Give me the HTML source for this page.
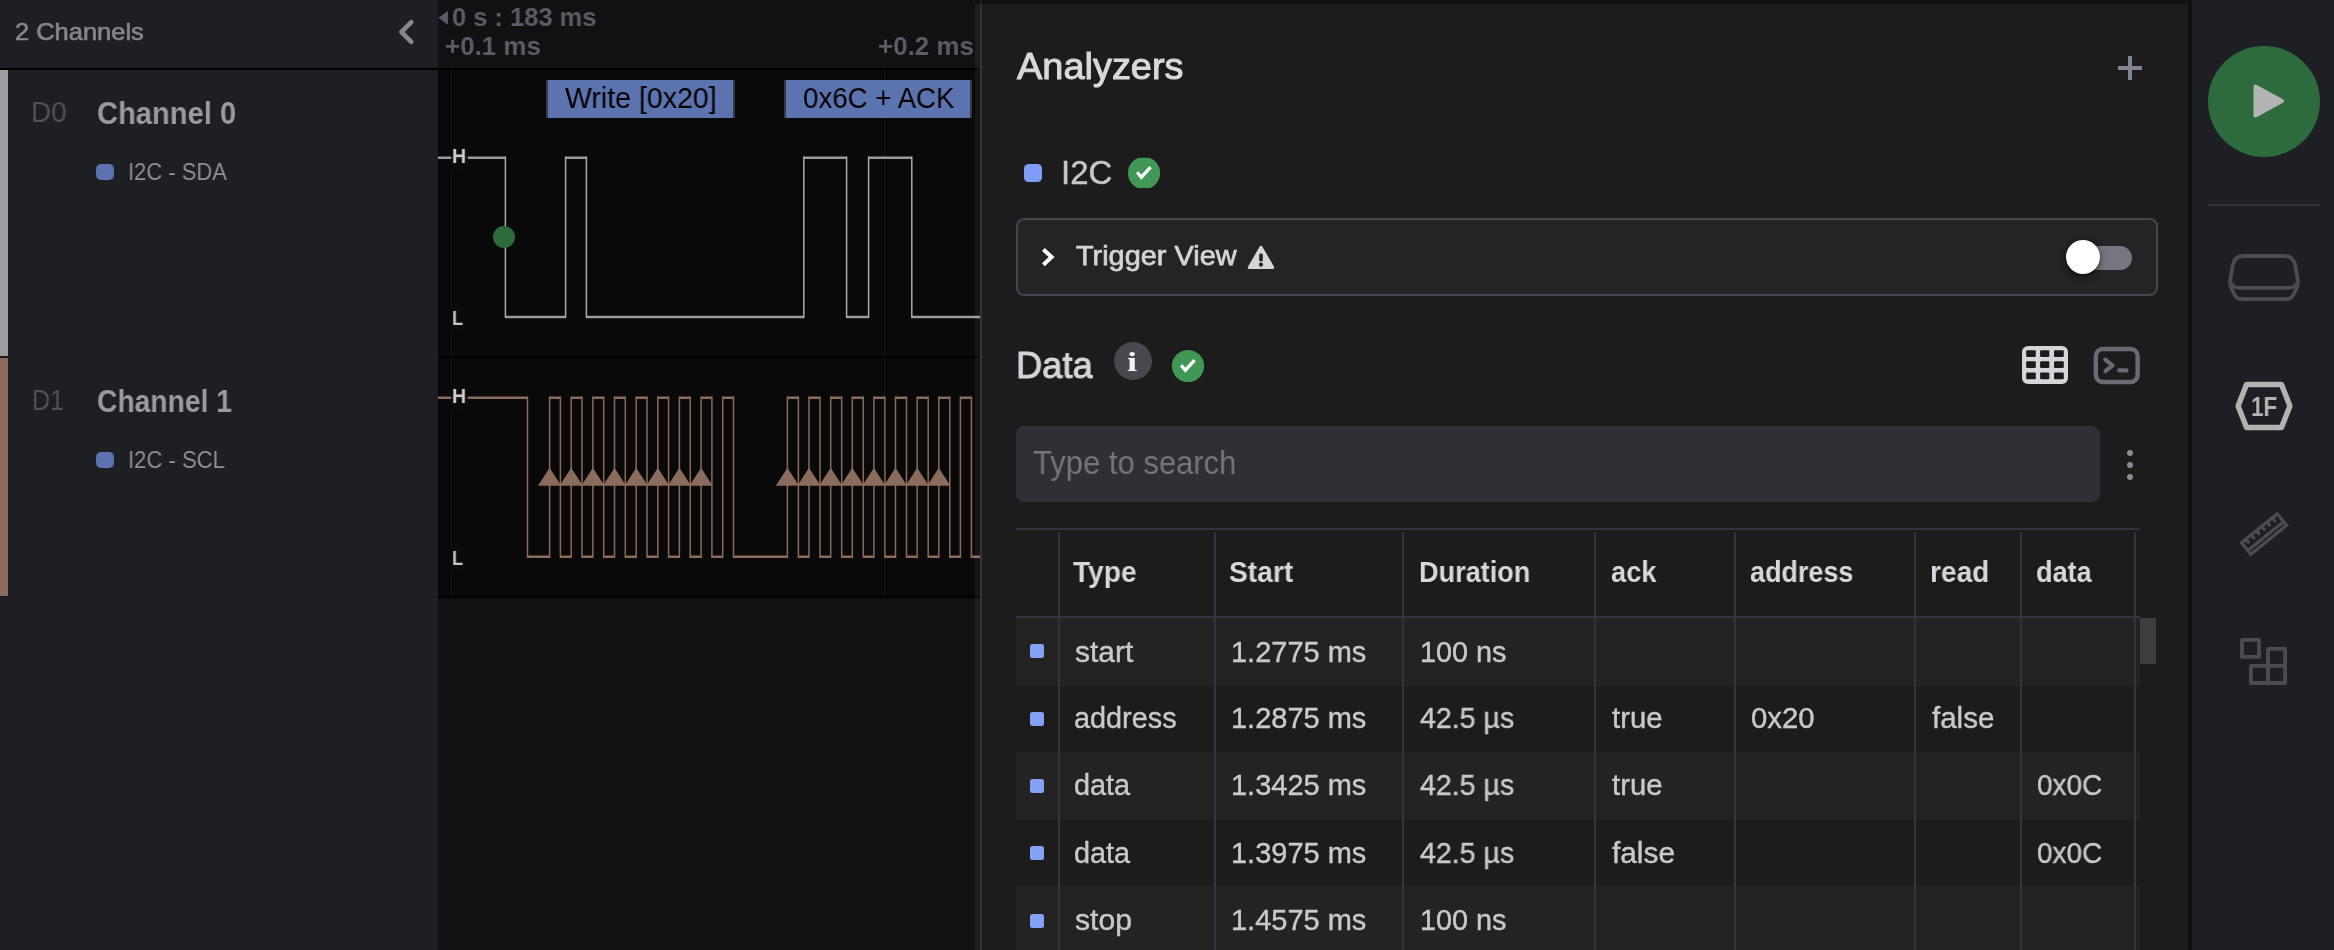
<!DOCTYPE html>
<html><head><meta charset="utf-8"><title>Logic 2</title>
<style>
html,body{margin:0;padding:0;background:#111111;}
body{width:2334px;height:950px;position:relative;overflow:hidden;font-family:"Liberation Sans",sans-serif;}
.a{position:absolute;}
.t{position:absolute;white-space:pre;transform-origin:0 0;display:block;will-change:transform;}
svg{position:absolute;overflow:visible;}
</style></head><body>
<div class="a" style="left:0px;top:0px;width:438px;height:950px;background:#1e1f24;"></div>
<div class="a" style="left:438px;top:0px;width:542px;height:68px;background:#111111;"></div>
<div class="a" style="left:438px;top:70px;width:542px;height:528px;background:#090909;"></div>
<div class="a" style="left:438px;top:598px;width:542px;height:352px;background:#111111;"></div>
<div class="a" style="left:0px;top:68px;width:980px;height:2px;background:#000000;"></div>
<div class="a" style="left:0px;top:356px;width:438px;height:2px;background:#1a1b1f;"></div>
<div class="a" style="left:438px;top:356px;width:542px;height:2px;background:#000000;"></div>
<div class="a" style="left:0px;top:596px;width:438px;height:2px;background:#1a1b1f;"></div>
<div class="a" style="left:438px;top:596px;width:542px;height:2px;background:#000000;"></div>
<div class="a" style="left:0px;top:70px;width:8px;height:286px;background:#9e9e9e;"></div>
<div class="a" style="left:0px;top:358px;width:8px;height:238px;background:#8b6b5b;"></div>
<div class="a" style="left:451px;top:60px;width:1px;height:538px;background:rgba(255,255,255,0.045);"></div>
<div class="a" style="left:884px;top:60px;width:1px;height:538px;background:rgba(255,255,255,0.045);"></div>
<span class="t" style="left:14.87px;top:17.89px;font-size:23.09px;line-height:28px;font-weight:400;color:#85868d;font-family:'Liberation Sans', sans-serif;transform:scaleX(1.1031);-webkit-text-stroke:0.62px #85868d;">2 Channels</span>
<svg style="left:396px;top:18px" width="22" height="28" viewBox="0 0 22 28"><path d="M15.3 4.2 L5.400 14 L15.3 23.8" fill="none" stroke="#87888e" stroke-width="4.6" stroke-linecap="round" stroke-linejoin="round"/></svg>
<span class="t" style="left:31.47px;top:94.80px;font-size:29px;line-height:35px;font-weight:400;color:#505157;font-family:'Liberation Sans', sans-serif;transform:scaleX(0.9602);">D0</span>
<span class="t" style="left:96.74px;top:94.90px;font-size:31px;line-height:37px;font-weight:700;color:#9a9ba1;font-family:'Liberation Sans', sans-serif;transform:scaleX(0.9389);">Channel 0</span>
<div class="a" style="left:96px;top:164px;width:18px;height:16px;background:#5b73b0;border-radius:5px;"></div>
<span class="t" style="left:128.02px;top:157.00px;font-size:24.5px;line-height:29px;font-weight:400;color:#8f9096;font-family:'Liberation Sans', sans-serif;transform:scaleX(0.8959);">I2C - SDA</span>
<span class="t" style="left:31.70px;top:382.80px;font-size:29px;line-height:35px;font-weight:400;color:#505157;font-family:'Liberation Sans', sans-serif;transform:scaleX(0.8606);">D1</span>
<span class="t" style="left:96.77px;top:382.90px;font-size:31px;line-height:37px;font-weight:700;color:#9a9ba1;font-family:'Liberation Sans', sans-serif;transform:scaleX(0.9106);">Channel 1</span>
<div class="a" style="left:96px;top:452px;width:18px;height:16px;background:#5b73b0;border-radius:5px;"></div>
<span class="t" style="left:128.01px;top:445.00px;font-size:24.5px;line-height:29px;font-weight:400;color:#8f9096;font-family:'Liberation Sans', sans-serif;transform:scaleX(0.9004);">I2C - SCL</span>
<svg style="left:438px;top:10px" width="12" height="16" viewBox="0 0 12 16"><path d="M9.9 1 L0.4 7.7 L9.9 14.700 Z" fill="#5b5d66"/></svg>
<span class="t" style="left:452.38px;top:2.10px;font-size:26px;line-height:31px;font-weight:700;color:#5b5d66;font-family:'Liberation Sans', sans-serif;transform:scaleX(0.9798);">0 s : 183 ms</span>
<span class="t" style="left:444.76px;top:30.50px;font-size:26px;line-height:31px;font-weight:700;color:#5b5d66;font-family:'Liberation Sans', sans-serif;transform:scaleX(0.9969);">+0.1 ms</span>
<span class="t" style="left:877.86px;top:30.50px;font-size:26px;line-height:31px;font-weight:700;color:#5b5d66;font-family:'Liberation Sans', sans-serif;transform:scaleX(0.9969);">+0.2 ms</span>
<div class="a" style="left:545.5px;top:80px;width:189px;height:38px;background:#5b74b0;border-left:2.5px solid #38393f;border-right:2.5px solid #38393f;box-sizing:border-box;"></div>
<div class="a" style="left:783.7px;top:80px;width:188.8px;height:38px;background:#5b74b0;border-left:2.5px solid #38393f;border-right:2.5px solid #38393f;box-sizing:border-box;"></div>
<span class="t" style="left:564.56px;top:80.70px;font-size:29px;line-height:35px;font-weight:400;color:#000;font-family:'Liberation Sans', sans-serif;transform:scaleX(0.9829);">Write [0x20]</span>
<span class="t" style="left:802.59px;top:80.70px;font-size:29px;line-height:35px;font-weight:400;color:#000;font-family:'Liberation Sans', sans-serif;transform:scaleX(0.9534);">0x6C + ACK</span>
<svg style="left:0;top:0" width="980" height="950"><path d="M438 157.8 H505.4 M505.4 316.9 H565.6 M565.6 157.8 H586.4 M586.4 316.9 H803.8 M803.8 157.8 H846.6 M846.6 316.9 H868.6 M868.6 157.8 H911.8 M911.8 316.9 H980 " fill="none" stroke="#9a9a9a" stroke-width="2.5"/><path d="M505.4 156.60000000000002 V318.09999999999997 M565.6 156.60000000000002 V318.09999999999997 M586.4 156.60000000000002 V318.09999999999997 M803.8 156.60000000000002 V318.09999999999997 M846.6 156.60000000000002 V318.09999999999997 M868.6 156.60000000000002 V318.09999999999997 M911.8 156.60000000000002 V318.09999999999997 " fill="none" stroke="#ababab" stroke-width="1.5"/></svg>
<svg style="left:0;top:0" width="980" height="950"><path d="M438 397.7 H527.5 M527.5 556.8 H549.6 M549.6 397.7 H560.4 M560.4 556.8 H571.2 M571.2 397.7 H582.0 M582.0 556.8 H592.9 M592.9 397.7 H603.7 M603.7 556.8 H614.5 M614.5 397.7 H625.3 M625.3 556.8 H636.2 M636.2 397.7 H647.0 M647.0 556.8 H657.8 M657.8 397.7 H668.6 M668.6 556.8 H679.4 M679.4 397.7 H690.2 M690.2 556.8 H701.1 M701.1 397.7 H711.9 M711.9 556.8 H722.7 M722.7 397.7 H733.5 M733.5 556.8 H787.4 M787.4 397.7 H798.4 M798.4 556.8 H809.0 M809.0 397.7 H820.0 M820.0 556.8 H830.7 M830.7 397.7 H841.7 M841.7 556.8 H852.3 M852.3 397.7 H863.3 M863.3 556.8 H873.9 M873.9 397.7 H884.9 M884.9 556.8 H895.5 M895.5 397.7 H906.5 M906.5 556.8 H917.2 M917.2 397.7 H928.2 M928.2 556.8 H938.8 M938.8 397.7 H949.8 M949.8 556.8 H960.4 M960.4 397.7 H971.4 M971.4 556.8 H980 " fill="none" stroke="#8b6b5b" stroke-width="2.5"/><path d="M527.5 396.5 V558.0 M549.6 396.5 V558.0 M560.4 396.5 V558.0 M571.2 396.5 V558.0 M582.0 396.5 V558.0 M592.9 396.5 V558.0 M603.7 396.5 V558.0 M614.5 396.5 V558.0 M625.3 396.5 V558.0 M636.2 396.5 V558.0 M647.0 396.5 V558.0 M657.8 396.5 V558.0 M668.6 396.5 V558.0 M679.4 396.5 V558.0 M690.2 396.5 V558.0 M701.1 396.5 V558.0 M711.9 396.5 V558.0 M722.7 396.5 V558.0 M733.5 396.5 V558.0 M787.4 396.5 V558.0 M798.4 396.5 V558.0 M809.0 396.5 V558.0 M820.0 396.5 V558.0 M830.7 396.5 V558.0 M841.7 396.5 V558.0 M852.3 396.5 V558.0 M863.3 396.5 V558.0 M873.9 396.5 V558.0 M884.9 396.5 V558.0 M895.5 396.5 V558.0 M906.5 396.5 V558.0 M917.2 396.5 V558.0 M928.2 396.5 V558.0 M938.8 396.5 V558.0 M949.8 396.5 V558.0 M960.4 396.5 V558.0 M971.4 396.5 V558.0 " fill="none" stroke="#8b6b5b" stroke-width="1.5"/><path d="M549.6 467.7 L561.2 485.8 L538.0 485.8 Z M571.2 467.7 L582.8 485.8 L559.6 485.8 Z M592.9 467.7 L604.5 485.8 L581.3 485.8 Z M614.5 467.7 L626.1 485.8 L602.9 485.8 Z M636.2 467.7 L647.8 485.8 L624.6 485.8 Z M657.8 467.7 L669.4 485.8 L646.2 485.8 Z M679.4 467.7 L691.0 485.8 L667.8 485.8 Z M701.1 467.7 L712.7 485.8 L689.5 485.8 Z M787.4 467.7 L799.0 485.8 L775.8 485.8 Z M809.0 467.7 L820.6 485.8 L797.4 485.8 Z M830.7 467.7 L842.3 485.8 L819.1 485.8 Z M852.3 467.7 L863.9 485.8 L840.7 485.8 Z M873.9 467.7 L885.5 485.8 L862.3 485.8 Z M895.5 467.7 L907.1 485.8 L883.9 485.8 Z M917.2 467.7 L928.8 485.8 L905.6 485.8 Z M938.8 467.7 L950.4 485.8 L927.2 485.8 Z " fill="#8b6b5b"/></svg>
<div class="a" style="left:493px;top:226px;width:22px;height:22px;background:#2d6a3c;border-radius:50%;"></div>
<div class="a" style="left:450.7px;top:143.2px;width:17.1px;height:27px;background:rgba(12,12,14,0.85);border-radius:5px;"></div>
<div class="a" style="left:450.7px;top:305px;width:13.1px;height:24.7px;background:rgba(12,12,14,0.85);border-radius:5px;"></div>
<span class="t" style="left:451.53px;top:144.10px;font-size:20px;line-height:24px;font-weight:700;color:#cdcdcd;font-family:'Liberation Sans', sans-serif;transform:scaleX(0.9746);">H</span>
<span class="t" style="left:451.63px;top:306.10px;font-size:20px;line-height:24px;font-weight:700;color:#c4c4c4;font-family:'Liberation Sans', sans-serif;transform:scaleX(0.9029);">L</span>
<div class="a" style="left:450.7px;top:383.2px;width:17.1px;height:27px;background:rgba(12,12,14,0.85);border-radius:5px;"></div>
<div class="a" style="left:450.7px;top:545px;width:13.1px;height:24.7px;background:rgba(12,12,14,0.85);border-radius:5px;"></div>
<span class="t" style="left:451.53px;top:384.10px;font-size:20px;line-height:24px;font-weight:700;color:#cdcdcd;font-family:'Liberation Sans', sans-serif;transform:scaleX(0.9746);">H</span>
<span class="t" style="left:451.63px;top:546.10px;font-size:20px;line-height:24px;font-weight:700;color:#c4c4c4;font-family:'Liberation Sans', sans-serif;transform:scaleX(0.9029);">L</span>
<div class="a" style="left:975px;top:4px;width:5px;height:946px;background:rgba(255,255,255,0.055);"></div>
<div class="a" style="left:975px;top:0px;width:5px;height:4px;background:rgba(255,255,255,0.0);"></div>
<div class="a" style="left:980px;top:0px;width:2px;height:4px;background:#1a1b20;"></div>
<div class="a" style="left:980px;top:4px;width:2px;height:946px;background:#33343b;"></div>
<div class="a" style="left:982px;top:4px;width:1206px;height:946px;background:#1c1c1c;"></div>
<div class="a" style="left:2188px;top:0px;width:4px;height:950px;background:#101010;"></div>
<div class="a" style="left:2192px;top:0px;width:142px;height:950px;background:#1e1f24;"></div>
<span class="t" style="left:1016.81px;top:44.49px;font-size:37.53px;line-height:45px;font-weight:400;color:#d9d9dc;font-family:'Liberation Sans', sans-serif;transform:scaleX(1.0112);-webkit-text-stroke:1.01px #d9d9dc;">Analyzers</span>
<div class="a" style="left:2118px;top:66px;width:24px;height:4px;background:#82848f;"></div>
<div class="a" style="left:2128px;top:56px;width:4px;height:24px;background:#82848f;"></div>
<div class="a" style="left:1024px;top:164px;width:18px;height:18px;background:#7f9df5;border-radius:4.5px;"></div>
<span class="t" style="left:1060.87px;top:152.87px;font-size:32.83px;line-height:39px;font-weight:400;color:#c6c6ca;font-family:'Liberation Sans', sans-serif;transform:scaleX(1.0020);-webkit-text-stroke:0.46px #c6c6ca;">I2C</span>
<svg style="left:1128.1px;top:156.9px;clip-path:inset(0.9px 0 0.8px 0);" width="32" height="32" viewBox="0 0 32 32"><circle cx="16" cy="16" r="16.1" fill="#419854"/><path d="M9.2 15.3 L13.4 20.2 L22.6 10.1" fill="none" stroke="#fff" stroke-width="3.3" stroke-linejoin="miter"/></svg>
<div class="a" style="left:1016.4px;top:218px;width:1141.4px;height:77.8px;background:#242427;border:2px solid #46474e;border-radius:8px;box-sizing:border-box;"></div>
<svg style="left:1040px;top:247px" width="16" height="20" viewBox="0 0 16 20"><path d="M3.4 2.4 L11.600 10.1 L3.4 17.8" fill="none" stroke="#f8f8f8" stroke-width="4.1" stroke-linecap="butt" stroke-linejoin="miter"/></svg>
<span class="t" style="left:1076.31px;top:239.22px;font-size:27.9px;line-height:33px;font-weight:400;color:#d4d4d8;font-family:'Liberation Sans', sans-serif;transform:scaleX(1.0359);-webkit-text-stroke:0.75px #d4d4d8;">Trigger View</span>
<svg style="left:1247px;top:245px" width="28" height="25" viewBox="0 0 28 25"><path d="M14 2.3 L25.700 22.4 L2.3 22.4 Z" fill="#d6d6da" stroke="#d6d6da" stroke-width="3" stroke-linejoin="round"/><rect x="12.200" y="8.6" width="3.6" height="7.8" rx="1.4" fill="#242427"/><circle cx="14" cy="19.7" r="2.1" fill="#242427"/></svg>
<div class="a" style="left:2070px;top:246px;width:62px;height:24px;background:#767680;border-radius:12px;"></div>
<div class="a" style="left:2066px;top:240px;width:34px;height:34px;background:#ffffff;border-radius:50%;box-shadow:0 3px 9px rgba(0,0,0,.45),0 1px 3px rgba(0,0,0,.4);"></div>
<span class="t" style="left:1016.29px;top:342.69px;font-size:37.53px;line-height:45px;font-weight:400;color:#d6d6da;font-family:'Liberation Sans', sans-serif;transform:scaleX(0.9676);-webkit-text-stroke:1.01px #d6d6da;">Data</span>
<div class="a" style="left:1114px;top:342px;width:38px;height:38px;background:#48494f;border-radius:50%;"></div>
<span class="t" style="left:1127.47px;top:345.00px;font-size:28px;line-height:34px;font-weight:700;color:#f4f4f4;font-family:'Liberation Serif', serif;transform:scaleX(1.2974);">i</span>
<svg style="left:1172px;top:350px;" width="32" height="32" viewBox="0 0 32 32"><circle cx="16" cy="16" r="16.1" fill="#419854"/><path d="M9.2 15.3 L13.4 20.2 L22.6 10.1" fill="none" stroke="#fff" stroke-width="3.3" stroke-linejoin="miter"/></svg>
<svg style="left:2022px;top:346px" width="46" height="38" viewBox="0 0 46 38"><rect x="0" y="0" width="46" height="38" rx="6" fill="#d6d6da"/><rect x="4.2" y="4.3" width="9.6" height="6.6" rx="1" fill="#1c1c1c"/><rect x="4.2" y="15.3" width="9.6" height="6.6" rx="1" fill="#1c1c1c"/><rect x="4.2" y="26.6" width="9.6" height="6.6" rx="1" fill="#1c1c1c"/><rect x="18.1" y="4.3" width="9.2" height="6.6" rx="1" fill="#1c1c1c"/><rect x="18.1" y="15.3" width="9.2" height="6.6" rx="1" fill="#1c1c1c"/><rect x="18.1" y="26.6" width="9.2" height="6.6" rx="1" fill="#1c1c1c"/><rect x="32" y="4.3" width="9.8" height="6.6" rx="1" fill="#1c1c1c"/><rect x="32" y="15.3" width="9.8" height="6.6" rx="1" fill="#1c1c1c"/><rect x="32" y="26.6" width="9.8" height="6.6" rx="1" fill="#1c1c1c"/></svg>
<svg style="left:2093px;top:347px" width="47" height="37" viewBox="0 0 47 37"><rect x="2.840" y="2" width="41.8" height="33" rx="7" fill="none" stroke="#696a73" stroke-width="4.4"/><path d="M12.300 12.6 L19.500 18.4 L12.5 24.2" fill="none" stroke="#696a73" stroke-width="4.2" stroke-linecap="round" stroke-linejoin="round"/><path d="M26.400 23.4 L33.400 23.4" stroke="#696a73" stroke-width="4.4" stroke-linecap="round"/></svg>
<div class="a" style="left:1016px;top:426px;width:1084px;height:76px;background:#2f3036;border-radius:8px;"></div>
<span class="t" style="left:1032.78px;top:443.10px;font-size:33px;line-height:40px;font-weight:400;color:#75757a;font-family:'Liberation Sans', sans-serif;transform:scaleX(0.9397);">Type to search</span>
<div class="a" style="left:2127px;top:450.4px;width:6px;height:6px;background:#8a8b94;border-radius:50%;"></div>
<div class="a" style="left:2127px;top:462.1px;width:6px;height:6px;background:#8a8b94;border-radius:50%;"></div>
<div class="a" style="left:2127px;top:473.9px;width:6px;height:6px;background:#8a8b94;border-radius:50%;"></div>
<div class="a" style="left:1016px;top:528px;width:1124px;height:2px;background:#33343c;"></div>
<div class="a" style="left:1016px;top:618px;width:1124px;height:67.5px;background:#232323;"></div>
<div class="a" style="left:1016px;top:752px;width:1124px;height:67.5px;background:#232323;"></div>
<div class="a" style="left:1016px;top:886px;width:1124px;height:67px;background:#232323;"></div>
<div class="a" style="left:1016px;top:616px;width:1124px;height:2px;background:#33343c;"></div>
<div class="a" style="left:1058px;top:532px;width:2px;height:418px;background:#33343c;"></div>
<div class="a" style="left:1214px;top:532px;width:2px;height:418px;background:#33343c;"></div>
<div class="a" style="left:1402px;top:532px;width:2px;height:418px;background:#33343c;"></div>
<div class="a" style="left:1594px;top:532px;width:2px;height:418px;background:#33343c;"></div>
<div class="a" style="left:1734px;top:532px;width:2px;height:418px;background:#33343c;"></div>
<div class="a" style="left:1914px;top:532px;width:2px;height:418px;background:#33343c;"></div>
<div class="a" style="left:2020px;top:532px;width:2px;height:418px;background:#33343c;"></div>
<div class="a" style="left:2134px;top:532px;width:2px;height:418px;background:#33343c;"></div>
<div class="a" style="left:2140px;top:618px;width:16px;height:46px;background:#3e3e3e;"></div>
<span class="t" style="left:1073.32px;top:555.10px;font-size:29px;line-height:35px;font-weight:700;color:#d8d8dc;font-family:'Liberation Sans', sans-serif;transform:scaleX(0.9692);">Type</span>
<span class="t" style="left:1229.36px;top:555.10px;font-size:29px;line-height:35px;font-weight:700;color:#d8d8dc;font-family:'Liberation Sans', sans-serif;transform:scaleX(0.9705);">Start</span>
<span class="t" style="left:1418.54px;top:555.10px;font-size:29px;line-height:35px;font-weight:700;color:#d8d8dc;font-family:'Liberation Sans', sans-serif;transform:scaleX(0.9337);">Duration</span>
<span class="t" style="left:1611.28px;top:555.10px;font-size:29px;line-height:35px;font-weight:700;color:#d8d8dc;font-family:'Liberation Sans', sans-serif;transform:scaleX(0.9385);">ack</span>
<span class="t" style="left:1750.19px;top:555.10px;font-size:29px;line-height:35px;font-weight:700;color:#d8d8dc;font-family:'Liberation Sans', sans-serif;transform:scaleX(0.9296);">address</span>
<span class="t" style="left:1929.57px;top:555.10px;font-size:29px;line-height:35px;font-weight:700;color:#d8d8dc;font-family:'Liberation Sans', sans-serif;transform:scaleX(0.9683);">read</span>
<span class="t" style="left:2035.72px;top:555.10px;font-size:29px;line-height:35px;font-weight:700;color:#d8d8dc;font-family:'Liberation Sans', sans-serif;transform:scaleX(0.9332);">data</span>
<div class="a" style="left:1030px;top:644.2px;width:14.3px;height:14px;background:#84a2f6;border-radius:2.5px;"></div>
<span class="t" style="left:1075.46px;top:634.80px;font-size:28.81px;line-height:35px;font-weight:400;color:#c9c9cc;font-family:'Liberation Sans', sans-serif;transform:scaleX(1.0391);-webkit-text-stroke:0.40px #c9c9cc;">start</span>
<span class="t" style="left:1230.63px;top:634.80px;font-size:28.81px;line-height:35px;font-weight:400;color:#c9c9cc;font-family:'Liberation Sans', sans-serif;transform:scaleX(1.0062);-webkit-text-stroke:0.40px #c9c9cc;">1.2775 ms</span>
<span class="t" style="left:1420.24px;top:634.80px;font-size:28.81px;line-height:35px;font-weight:400;color:#c9c9cc;font-family:'Liberation Sans', sans-serif;transform:scaleX(0.9999);-webkit-text-stroke:0.40px #c9c9cc;">100 ns</span>
<div class="a" style="left:1030px;top:712.4px;width:14.3px;height:14px;background:#84a2f6;border-radius:2.5px;"></div>
<span class="t" style="left:1074.45px;top:700.60px;font-size:28.81px;line-height:35px;font-weight:400;color:#c9c9cc;font-family:'Liberation Sans', sans-serif;transform:scaleX(1.0009);-webkit-text-stroke:0.40px #c9c9cc;">address</span>
<span class="t" style="left:1230.63px;top:700.60px;font-size:28.81px;line-height:35px;font-weight:400;color:#c9c9cc;font-family:'Liberation Sans', sans-serif;transform:scaleX(1.0062);-webkit-text-stroke:0.40px #c9c9cc;">1.2875 ms</span>
<span class="t" style="left:1420.33px;top:700.60px;font-size:28.81px;line-height:35px;font-weight:400;color:#c9c9cc;font-family:'Liberation Sans', sans-serif;transform:scaleX(0.9905);-webkit-text-stroke:0.40px #c9c9cc;">42.5 µs</span>
<span class="t" style="left:1612.47px;top:700.60px;font-size:28.81px;line-height:35px;font-weight:400;color:#c9c9cc;font-family:'Liberation Sans', sans-serif;transform:scaleX(1.0171);-webkit-text-stroke:0.40px #c9c9cc;">true</span>
<span class="t" style="left:1751.03px;top:700.60px;font-size:28.81px;line-height:35px;font-weight:400;color:#c9c9cc;font-family:'Liberation Sans', sans-serif;transform:scaleX(1.0179);-webkit-text-stroke:0.40px #c9c9cc;">0x20</span>
<span class="t" style="left:1932.26px;top:700.60px;font-size:28.81px;line-height:35px;font-weight:400;color:#c9c9cc;font-family:'Liberation Sans', sans-serif;transform:scaleX(1.0250);-webkit-text-stroke:0.40px #c9c9cc;">false</span>
<div class="a" style="left:1030px;top:778.6px;width:14.3px;height:14px;background:#84a2f6;border-radius:2.5px;"></div>
<span class="t" style="left:1074.45px;top:767.90px;font-size:28.81px;line-height:35px;font-weight:400;color:#c9c9cc;font-family:'Liberation Sans', sans-serif;transform:scaleX(1.0021);-webkit-text-stroke:0.40px #c9c9cc;">data</span>
<span class="t" style="left:1230.63px;top:767.90px;font-size:28.81px;line-height:35px;font-weight:400;color:#c9c9cc;font-family:'Liberation Sans', sans-serif;transform:scaleX(1.0062);-webkit-text-stroke:0.40px #c9c9cc;">1.3425 ms</span>
<span class="t" style="left:1420.33px;top:767.90px;font-size:28.81px;line-height:35px;font-weight:400;color:#c9c9cc;font-family:'Liberation Sans', sans-serif;transform:scaleX(0.9905);-webkit-text-stroke:0.40px #c9c9cc;">42.5 µs</span>
<span class="t" style="left:1612.47px;top:767.90px;font-size:28.81px;line-height:35px;font-weight:400;color:#c9c9cc;font-family:'Liberation Sans', sans-serif;transform:scaleX(1.0171);-webkit-text-stroke:0.40px #c9c9cc;">true</span>
<span class="t" style="left:2037.38px;top:767.90px;font-size:28.81px;line-height:35px;font-weight:400;color:#c9c9cc;font-family:'Liberation Sans', sans-serif;transform:scaleX(0.9683);-webkit-text-stroke:0.40px #c9c9cc;">0x0C</span>
<div class="a" style="left:1030px;top:846.1px;width:14.3px;height:14px;background:#84a2f6;border-radius:2.5px;"></div>
<span class="t" style="left:1074.45px;top:836.10px;font-size:28.81px;line-height:35px;font-weight:400;color:#c9c9cc;font-family:'Liberation Sans', sans-serif;transform:scaleX(1.0021);-webkit-text-stroke:0.40px #c9c9cc;">data</span>
<span class="t" style="left:1230.63px;top:836.10px;font-size:28.81px;line-height:35px;font-weight:400;color:#c9c9cc;font-family:'Liberation Sans', sans-serif;transform:scaleX(1.0062);-webkit-text-stroke:0.40px #c9c9cc;">1.3975 ms</span>
<span class="t" style="left:1420.33px;top:836.10px;font-size:28.81px;line-height:35px;font-weight:400;color:#c9c9cc;font-family:'Liberation Sans', sans-serif;transform:scaleX(0.9905);-webkit-text-stroke:0.40px #c9c9cc;">42.5 µs</span>
<span class="t" style="left:1612.46px;top:836.10px;font-size:28.81px;line-height:35px;font-weight:400;color:#c9c9cc;font-family:'Liberation Sans', sans-serif;transform:scaleX(1.0351);-webkit-text-stroke:0.40px #c9c9cc;">false</span>
<span class="t" style="left:2037.38px;top:836.10px;font-size:28.81px;line-height:35px;font-weight:400;color:#c9c9cc;font-family:'Liberation Sans', sans-serif;transform:scaleX(0.9683);-webkit-text-stroke:0.40px #c9c9cc;">0x0C</span>
<div class="a" style="left:1030px;top:913.9px;width:14.3px;height:14px;background:#84a2f6;border-radius:2.5px;"></div>
<span class="t" style="left:1074.86px;top:902.90px;font-size:28.81px;line-height:35px;font-weight:400;color:#c9c9cc;font-family:'Liberation Sans', sans-serif;transform:scaleX(1.0456);-webkit-text-stroke:0.40px #c9c9cc;">stop</span>
<span class="t" style="left:1230.63px;top:902.90px;font-size:28.81px;line-height:35px;font-weight:400;color:#c9c9cc;font-family:'Liberation Sans', sans-serif;transform:scaleX(1.0062);-webkit-text-stroke:0.40px #c9c9cc;">1.4575 ms</span>
<span class="t" style="left:1420.24px;top:902.90px;font-size:28.81px;line-height:35px;font-weight:400;color:#c9c9cc;font-family:'Liberation Sans', sans-serif;transform:scaleX(0.9999);-webkit-text-stroke:0.40px #c9c9cc;">100 ns</span>
<div class="a" style="left:2208px;top:46px;width:112px;height:110.5px;background:#2d6a3c;border-radius:50%;"></div>
<svg style="left:2250px;top:82px" width="38" height="38" viewBox="0 0 38 38"><path d="M5.5 4.5 L32 19 L5.5 33.5 Z" fill="#b4b4b4" stroke="#b4b4b4" stroke-width="4" stroke-linejoin="round"/></svg>
<div class="a" style="left:2208px;top:204px;width:112px;height:2px;background:#2f3036;"></div>
<svg style="left:2226px;top:252px" width="76" height="52" viewBox="0 0 76 52"><path d="M17 4 H59 Q67.5 4 69.3 13.500 L71.9 28.6 Q72.4 33 70 37.5 L67.3 43 Q65.5 47.1 58.7 47.1 H17.3 Q10.5 47.1 8.7 43 L6 37.5 Q3.6 33 4.1 28.6 L6.7 13.5 Q8.5 4 17 4 Z" fill="none" stroke="#4b4c52" stroke-width="3.8"/><path d="M4.2 29 Q5.5 35.8 14 35.8 H62 Q70.5 35.8 71.8 29" fill="none" stroke="#4b4c52" stroke-width="3.8"/></svg>
<svg style="left:2234px;top:380px" width="60" height="52" viewBox="0 0 60 52"><path d="M12.500 4.5 H47.5 L55.9 26 L47.5 47.5 H12.5 L4.1 26 Z" fill="none" stroke="#b2b2b2" stroke-width="5.4" stroke-linejoin="round"/></svg>
<span class="t" style="left:2250.65px;top:390.50px;font-size:27px;line-height:32px;font-weight:700;color:#b2b2b2;font-family:'Liberation Sans', sans-serif;transform:scaleX(0.8307);">1F</span>
<svg style="left:2229.700px;top:500px" width="68" height="68" viewBox="-34 -34 68 68"><g transform="rotate(-38.9)" fill="none" stroke="#4b4c52" stroke-width="3.2"><rect x="-23" y="-7.4" width="46" height="14.8"/><path d="M-23 2.7 H23"/><path d="M-17.2 -7.4 V-3.4 M-10.4 -7.4 V-3.4 M-3.800 -7.4 V-3.4 M3 -7.4 V-3.4 M9.9 -7.4 V-3.4 M16.6 -7.4 V-3.4" stroke-linecap="round"/></g></svg>
<svg style="left:2238px;top:636px" width="52" height="52" viewBox="0 0 52 52"><g fill="none" stroke="#4b4c52" stroke-width="3.8" stroke-linejoin="round"><rect x="4" y="3.900" width="17" height="17"/><path d="M12.950 29.9 H30 V12.87 H47.1 V47 H12.95 Z M30 29.9 V47 M30 29.9 H47.1"/></g></svg>
</body></html>
